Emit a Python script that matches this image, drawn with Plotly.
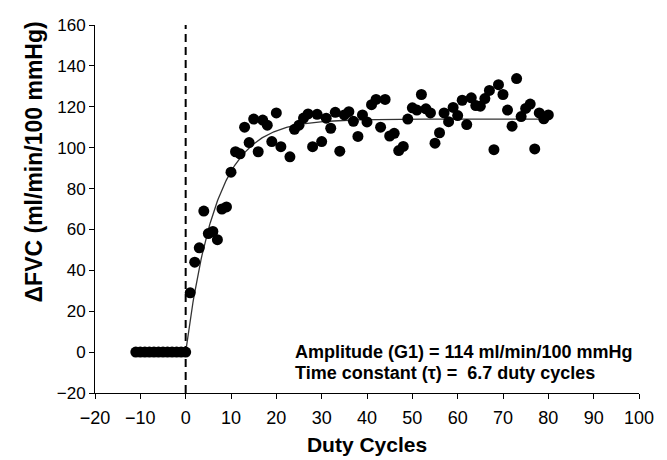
import numpy as np
import plotly.graph_objects as go

# Baseline duty cycles (before onset)
baseline_x = list(range(-11, 1))
baseline_y = [0] * len(baseline_x)

# Response duty cycles after onset (cycle 22 not visible in the source)
resp_x = [1, 2, 3, 4, 5, 6, 7, 8, 9, 10,
          11, 12, 13, 14, 15, 16, 17, 18, 19, 20,
          21, 23, 24, 25, 26, 27, 28, 29, 30,
          31, 32, 33, 34, 35, 36, 37, 38, 39, 40,
          41, 42, 43, 44, 45, 46, 47, 48, 49, 50,
          51, 52, 53, 54, 55, 56, 57, 58, 59, 60,
          61, 62, 63, 64, 65, 66, 67, 68, 69, 70,
          71, 72, 73, 74, 75, 76, 77, 78, 79, 80]
resp_y = [29, 44, 51, 69, 58, 59, 55, 70, 71, 88,
          98, 97, 110, 102.5, 114, 98, 113.5, 111, 103, 117,
          100.5, 95.5, 109, 111, 114.5, 116.5, 100.5, 116.3, 103,
          114.4, 109.5, 117.3, 98.3, 116, 117.6, 112.9, 105.5, 116, 112.6,
          121, 123.6, 110, 123.6, 105.7, 107, 98.6, 100.6, 114, 119.5,
          118.4, 126, 119, 117, 102.2, 107.3, 117, 112.7, 119.7, 115.7,
          123.2, 111.3, 124.4, 120.6, 120.3, 124, 128, 99, 130.8, 126,
          118.4, 110.5, 133.8, 115.2, 119.2, 121.3, 99.4, 117, 114.1, 116]

# Fitted model parameters (from the chart's annotation)
amplitude = 114
tau = 6.7
fit_x = np.linspace(0, 80, 400)
fit_y = amplitude * (1 - np.exp(-fit_x / tau))

onset_x = [0, 0]
onset_y = [-20, 160]

FONT = "Liberation Sans, Arial, sans-serif"

fig = go.Figure()
fig.add_trace(go.Scatter(x=onset_x, y=onset_y, mode="lines",
                         line=dict(color="black", width=2, dash="8px,5px"),
                         hoverinfo="skip"))
fig.add_trace(go.Scatter(x=fit_x, y=fit_y, mode="lines",
                         line=dict(color="#333333", width=1.3)))
fig.add_trace(go.Scatter(x=baseline_x, y=baseline_y, mode="markers",
                         marker=dict(color="black", size=11)))
fig.add_trace(go.Scatter(x=resp_x, y=resp_y, mode="markers",
                         marker=dict(color="black", size=11)))

# the page body has an 8px default margin, so the figure is sized to fit
fig.update_layout(
    width=659, height=452,
    margin=dict(l=86.5, r=27.7, t=8, b=66),
    paper_bgcolor="white", plot_bgcolor="white",
    showlegend=False,
    font=dict(family=FONT, color="black", size=17),
)
fig.update_xaxes(range=[-20, 100], tick0=-20, dtick=10, showgrid=False,
                 zeroline=False, showline=True, linecolor="black", linewidth=1,
                 ticks="outside", ticklen=5, tickcolor="black",
                 tickfont=dict(size=18, family=FONT), ticklabelstandoff=3,
                 ticklabeloverflow="allow",
                 title=dict(text="<b>Duty Cycles</b>", font=dict(size=21, family=FONT),
                            standoff=10))
fig.update_yaxes(range=[-20, 160], tick0=-20, dtick=20, showgrid=False,
                 zeroline=False, showline=True, linecolor="black", linewidth=1,
                 ticks="outside", ticklen=5, tickcolor="black",
                 ticklabeloverflow="allow",
                 tickfont=dict(size=17, family=FONT))

fig.add_annotation(xref="paper", yref="paper", x=-0.113, y=0.628,
                   text="<b>ΔFVC (ml/min/100 mmHg)</b>", textangle=-90,
                   showarrow=False, font=dict(size=23, family=FONT),
                   xanchor="center", yanchor="middle")
fig.add_annotation(x=23.6, y=0, text="<b>Amplitude (G1) = 114 ml/min/100 mmHg</b>",
                   showarrow=False, xanchor="left", yanchor="middle",
                   font=dict(size=18, family=FONT))
fig.add_annotation(x=23.6, y=-10, text="<b>Time constant (τ) =  6.7 duty cycles</b>",
                   showarrow=False, xanchor="left", yanchor="middle",
                   font=dict(size=18, family=FONT))

fig.write_html("out.html")
